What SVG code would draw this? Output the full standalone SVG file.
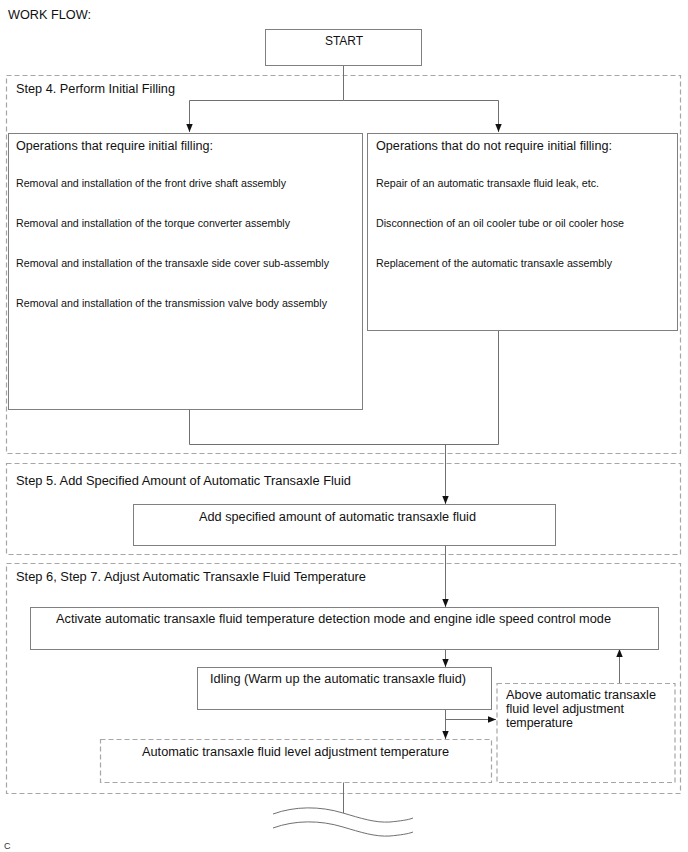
<svg xmlns="http://www.w3.org/2000/svg" width="688" height="852" viewBox="0 0 688 852">
<style>
text{font-family:"Liberation Sans",Arial,sans-serif;fill:#111;}
.h{font-size:12px;}
.s{font-size:10px;}
.box{fill:#fff;stroke:#808080;stroke-width:1;}
.dbox{fill:none;stroke:#a6a6a6;stroke-width:1.2;stroke-dasharray:5,3;}
.dnode{fill:#fff;stroke:#a6a6a6;stroke-width:1.2;stroke-dasharray:5,3;}
.ln{fill:none;stroke:#707070;stroke-width:1;}
</style>
<defs>
<marker id="ah" viewBox="0 0 10 10" refX="10" refY="5" markerWidth="8" markerHeight="8" markerUnits="userSpaceOnUse" orient="auto">
<path d="M0,1 L10,5 L0,9 Z" fill="#111"/>
</marker>
</defs>
<rect width="688" height="852" fill="#fff"/>
<text x="8" y="19" class="h" textLength="83" lengthAdjust="spacingAndGlyphs">WORK FLOW:</text>

<g id="step4">
<rect class="dbox" x="6.5" y="75.5" width="674" height="378"/>
<text x="16" y="93" class="h" textLength="159" lengthAdjust="spacingAndGlyphs">Step 4. Perform Initial Filling</text>
</g>
<g id="step5">
<rect class="dbox" x="6.5" y="463.5" width="674" height="91"/>
<text x="16" y="485" class="h" textLength="335" lengthAdjust="spacingAndGlyphs">Step 5. Add Specified Amount of Automatic Transaxle Fluid</text>
</g>
<g id="step6">
<rect class="dbox" x="6.5" y="563.5" width="674" height="230"/>
<text x="16" y="581" class="h" textLength="350" lengthAdjust="spacingAndGlyphs">Step 6, Step 7. Adjust Automatic Transaxle Fluid Temperature</text>
</g>

<g id="connectors">
<path class="ln" d="M343.5,65 V100.5 H189.5 V132" marker-end="url(#ah)"/>
<path class="ln" d="M343.5,100.5 H498.5 V132" marker-end="url(#ah)"/>
<path class="ln" d="M189.5,409 V444.5 H498.5 V330"/>
<path class="ln" d="M445.5,444.5 V504" marker-end="url(#ah)"/>
<path class="ln" d="M445.5,545 V607" marker-end="url(#ah)"/>
<path class="ln" d="M445.5,649 V667" marker-end="url(#ah)"/>
<path class="ln" d="M445.5,709 V739" marker-end="url(#ah)"/>
<path class="ln" d="M445.5,719.5 H496" marker-end="url(#ah)"/>
<path class="ln" d="M619.5,683 V649" marker-end="url(#ah)"/>
<path class="ln" d="M343.5,782 V813"/>
<path class="ln" d="M273,814 C295,806 320,806 343,813 C360,818 375,823 390,822 C400,821 408,820 413,818"/>
<path class="ln" d="M273,828 C295,820 320,820 343,827 C360,832 375,837 390,836 C400,835 408,834 413,832"/>
</g>

<g id="start">
<rect class="box" x="265.5" y="29.5" width="156" height="36"/>
<text x="344" y="45" class="h" text-anchor="middle">START</text>
</g>

<g id="require">
<rect class="box" x="8.5" y="133.5" width="354" height="276"/>
<text x="16" y="150" class="h" textLength="197" lengthAdjust="spacingAndGlyphs">Operations that require initial filling:</text>
<text x="16" y="187" class="s" textLength="270" lengthAdjust="spacingAndGlyphs">Removal and installation of the front drive shaft assembly</text>
<text x="16" y="227" class="s" textLength="274" lengthAdjust="spacingAndGlyphs">Removal and installation of the torque converter assembly</text>
<text x="16" y="267" class="s" textLength="313" lengthAdjust="spacingAndGlyphs">Removal and installation of the transaxle side cover sub-assembly</text>
<text x="16" y="307" class="s" textLength="311" lengthAdjust="spacingAndGlyphs">Removal and installation of the transmission valve body assembly</text>
</g>

<g id="norequire">
<rect class="box" x="367.5" y="133.5" width="310" height="197"/>
<text x="376" y="150" class="h" textLength="236" lengthAdjust="spacingAndGlyphs">Operations that do not require initial filling:</text>
<text x="376" y="187" class="s" textLength="223" lengthAdjust="spacingAndGlyphs">Repair of an automatic transaxle fluid leak, etc.</text>
<text x="376" y="227" class="s" textLength="248" lengthAdjust="spacingAndGlyphs">Disconnection of an oil cooler tube or oil cooler hose</text>
<text x="376" y="267" class="s" textLength="236" lengthAdjust="spacingAndGlyphs">Replacement of the automatic transaxle assembly</text>
</g>

<g id="addfluid">
<rect class="box" x="133.5" y="504.5" width="422" height="41"/>
<text x="199" y="521" class="h" textLength="277" lengthAdjust="spacingAndGlyphs">Add specified amount of automatic transaxle fluid</text>
</g>

<g id="activate">
<rect class="box" x="30.5" y="607.5" width="628" height="42"/>
<text x="56" y="623" class="h" textLength="555" lengthAdjust="spacingAndGlyphs">Activate automatic transaxle fluid temperature detection mode and engine idle speed control mode</text>
</g>

<g id="idling">
<rect class="box" x="197.5" y="667.5" width="294" height="42"/>
<text x="210" y="683" class="h" textLength="256" lengthAdjust="spacingAndGlyphs">Idling (Warm up the automatic transaxle fluid)</text>
</g>

<g id="above">
<rect class="dnode" x="497" y="683.5" width="178" height="99"/>
<text x="506" y="699" class="h" textLength="150" lengthAdjust="spacingAndGlyphs">Above automatic transaxle</text>
<text x="506" y="713" class="h" textLength="118" lengthAdjust="spacingAndGlyphs">fluid level adjustment</text>
<text x="506" y="727" class="h" textLength="67" lengthAdjust="spacingAndGlyphs">temperature</text>
</g>

<g id="adjtemp">
<rect class="dnode" x="100.5" y="739.5" width="391" height="43"/>
<text x="142" y="756" class="h" textLength="307" lengthAdjust="spacingAndGlyphs">Automatic transaxle fluid level adjustment temperature</text>
</g>

<text x="4" y="849" style="font-size:9px;fill:#333">C</text>
</svg>
